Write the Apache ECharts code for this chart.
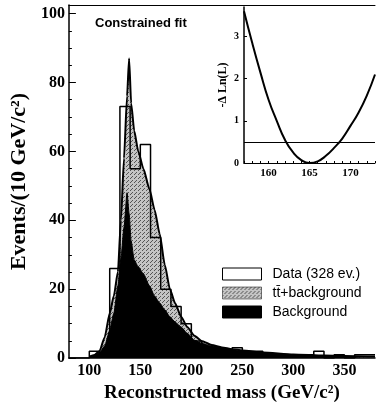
<!DOCTYPE html>
<html><head><meta charset="utf-8">
<script src="https://cdn.jsdelivr.net/npm/echarts@6/dist/echarts.min.js"></script>
<style>html,body{margin:0;padding:0;background:#fff}#c{width:378px;height:408px}</style>
</head><body><div id="c"></div>
<script>
// Histogram: left edges of 10 GeV bins and event counts
const binLeft = [80,90,100,110,120,130,140,150,160,170,180,190,200,210,220,230,240,250,260,270,280,290,300,310,320,330,340,350,360,370];
const binCounts = [0,0,2,1,26,73,55,62,35,20,15,10,5,3,3,2,3,2,2,1,1,1,1,1,2,0,1,0,1,1];
const binRight = 380;
// Fit curves
const fitMass  = [100,105,110,115,120,124,128,131,134,137,139,141,144,148,153,159,164,169,174,179,184,190,196,203,210,220,230,240,250,270,300,330,360,380];
const fitTotal = [0.4,0.9,2,6,13,18,25,40,58,76,87,74,66,60,55,49,43,36,27,20,16,12,9,6.5,5,3.8,3.1,2.6,2.2,1.6,1.05,0.75,0.55,0.45];
const fitBkg   = [0.3,0.7,1.6,3.5,8,13,21,29,38,48,42,34,28.5,26.5,24.5,21,18,16,14,12,10.5,9,7.2,5.2,4.3,3.5,3,2.5,2.1,1.5,1,0.7,0.5,0.4];
// Inset likelihood scan
const scanMass = [157,158,159,160,161,162,163,164,165,166,167,168,169,170,171,172,173];
const scanNLL  = [3.6,2.85,2.15,1.5,1.0,0.55,0.25,0.07,0,0.04,0.17,0.36,0.58,0.88,1.2,1.6,2.1];
const scanLevel = 0.5;
const xTickLabels = [100,150,200,250,300,350];
const insetXTickLabels = [160,165,170];

const pc = document.createElement('canvas');
pc.width = 4; pc.height = 4;
const g = pc.getContext('2d');
g.fillStyle = '#c4c4c4'; g.fillRect(0,0,4,4);
g.fillStyle = '#555555';
g.fillRect(0,0,1,1); g.fillRect(2,2,1,1); g.fillRect(3,1,1,1);
const stipple = {image: pc, repeat: 'repeat'};

const histData = binLeft.map((x,i)=>[x, binCounts[i]]);
histData.push([binRight, binCounts[binCounts.length-1]]);

const serif = 'Liberation Serif';
const sans = 'Liberation Sans';

const chart = echarts.init(document.getElementById('c'), null, {renderer:'canvas'});
chart.setOption({
  animation: false,
  backgroundColor: '#fff',
  title: {text: 'Constrained fit', left: 95, top: 17, padding: 0,
    textStyle: {fontFamily: sans, fontWeight: 'bold', fontSize: 13, color: '#000'}},
  legend: {
    left: 217, top: 262, orient: 'vertical', itemWidth: 39, itemHeight: 12, itemGap: 5,
    textStyle: {fontFamily: sans, fontSize: 14, color: '#000', padding: [0,0,0,6]},
    data: [
      {name: 'Data (328 ev.)', icon: 'rect', itemStyle: {color: '#fff', borderColor: '#000', borderWidth: 1}},
      {name: 'tt\u0304+background', icon: 'rect', itemStyle: {color: stipple, borderColor: '#000', borderWidth: 0.5}},
      {name: 'Background', icon: 'rect', itemStyle: {color: '#000', borderColor: '#000', borderWidth: 1}}
    ]
  },
  grid: [
    {left: 58, top: 5, right: 0, bottom: 49},
    {left: 244, top: 7, right: 0, bottom: 245}
  ],
  xAxis: [
    {gridIndex: 0, type: 'value', min: 80, max: 380, interval: 10,
     axisLine: {lineStyle: {color: '#000', width: 1.5}},
     axisTick: {show: false}, splitLine: {show: false},
     axisLabel: {margin: 5, fontFamily: serif, fontWeight: 'bold', fontSize: 16, color: '#000',
       formatter: v => xTickLabels.includes(v) ? String(v) : ''},
     name: 'Reconstructed mass (GeV/c\u00b2)', nameLocation: 'middle', nameGap: 24,
     nameTextStyle: {fontFamily: serif, fontWeight: 'bold', fontSize: 19, color: '#000'}},
    {gridIndex: 0, type: 'value', position: 'top', min: 80, max: 380,
     axisLine: {show: true, lineStyle: {color: '#000', width: 1}},
     axisTick: {show: false}, axisLabel: {show: false}, splitLine: {show: false}},
    {gridIndex: 1, type: 'value', min: 157, max: 173, interval: 1,
     axisLine: {lineStyle: {color: '#000', width: 1}},
     axisTick: {show: true, inside: true, length: 2, lineStyle: {color: '#000'}},
     splitLine: {show: false},
     axisLabel: {margin: 5, fontFamily: serif, fontWeight: 'bold', fontSize: 11, color: '#000',
       formatter: v => insetXTickLabels.includes(v) ? String(v) : ''}}
  ],
  yAxis: [
    {gridIndex: 0, type: 'value', min: 0, max: 102.5, interval: 20,
     axisLine: {show: true, lineStyle: {color: '#000', width: 1.5}},
     axisTick: {show: true, inside: true, length: 7, lineStyle: {color: '#000'}},
     minorTick: {show: true, splitNumber: 4, length: 3, lineStyle: {color: '#000'}},
     splitLine: {show: false},
     axisLabel: {margin: 4, showMaxLabel: false, fontFamily: serif, fontWeight: 'bold', fontSize: 16, color: '#000'},
     name: 'Events/(10 GeV/c\u00b2)', nameLocation: 'middle', nameGap: 33,
     nameTextStyle: {fontFamily: serif, fontWeight: 'bold', fontSize: 22, color: '#000'}},
    {gridIndex: 1, type: 'value', min: 0, max: 3.7, interval: 1,
     axisLine: {show: true, lineStyle: {color: '#000', width: 1.5}},
     axisTick: {show: true, inside: true, length: 3, lineStyle: {color: '#000'}},
     splitLine: {show: false},
     axisLabel: {margin: 5, showMaxLabel: false, fontFamily: serif, fontWeight: 'bold', fontSize: 10, color: '#000'},
     name: '-\u0394 Ln(L)', nameLocation: 'middle', nameGap: 15,
     nameTextStyle: {fontFamily: serif, fontWeight: 'bold', fontSize: 12, color: '#000'}}
  ],
  series: [
    {name: 'tt\u0304+background', type: 'line', xAxisIndex: 0, yAxisIndex: 0, z: 2,
     data: fitMass.map((m,i)=>[m, fitTotal[i]]), smooth: 0.2, smoothMonotone: 'x', showSymbol: false,
     lineStyle: {color: '#000', width: 2}, itemStyle: {color: stipple},
     areaStyle: {color: stipple, opacity: 1}},
    {name: 'Background', type: 'line', xAxisIndex: 0, yAxisIndex: 0, z: 3,
     data: fitMass.map((m,i)=>[m, fitBkg[i]]), smooth: 0.2, smoothMonotone: 'x', showSymbol: false,
     lineStyle: {color: '#000', width: 1}, itemStyle: {color: '#000'},
     areaStyle: {color: '#000', opacity: 1}},
    {name: 'Data (328 ev.)', type: 'line', xAxisIndex: 0, yAxisIndex: 0, z: 4,
     data: histData, step: 'end', showSymbol: false,
     lineStyle: {color: '#000', width: 1.5}, itemStyle: {color: '#fff'}},
    {name: 'scan', type: 'line', xAxisIndex: 2, yAxisIndex: 1, z: 5,
     data: scanMass.map((m,i)=>[m, scanNLL[i]]), smooth: true, showSymbol: false,
     lineStyle: {color: '#000', width: 2},
     markLine: {silent: true, symbol: 'none', label: {show: false},
       lineStyle: {color: '#000', width: 1, type: 'solid'},
       data: [{yAxis: scanLevel}]}}
  ]
});
</script></body></html>
